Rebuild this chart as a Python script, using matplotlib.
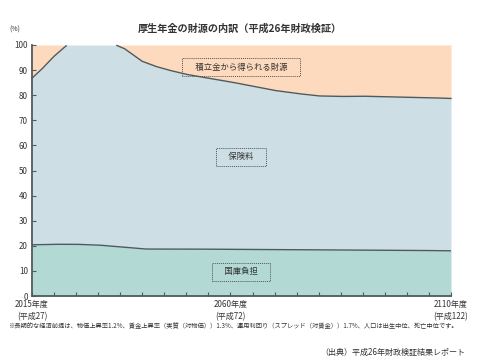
import matplotlib.pyplot as plt
import numpy as np

plt.rcParams["font.family"] = ["Noto Sans CJK JP", "DejaVu Sans"]

# 年度と財源の内訳（%）
years = [2015, 2017, 2020, 2022, 2023, 2034, 2036, 2038, 2040, 2043, 2046,
         2050, 2055, 2060, 2065, 2070, 2075, 2080, 2085, 2090, 2095, 2100,
         2105, 2110]
# 国庫負担 + 保険料 の累積（上側の線）
upper = [86.8, 90.0, 95.5, 98.6, 100.0, 100.0, 98.5, 96.0, 93.5, 91.5, 90.0,
         88.3, 86.8, 85.3, 83.6, 81.9, 80.7, 79.7, 79.5, 79.6, 79.4, 79.2,
         79.0, 78.7]
# 国庫負担（下側の線）
lower_years = [2015, 2020, 2025, 2030, 2035, 2040, 2041, 2050, 2060, 2070,
               2080, 2090, 2100, 2110]
lower_vals = [20.4, 20.6, 20.6, 20.3, 19.6, 18.8, 18.7, 18.7, 18.6, 18.5,
              18.4, 18.3, 18.2, 18.0]

xtick_pos = [2015, 2060, 2110]
xtick_labels = ["2015年度\n(平成27)", "2060年度\n(平成72)", "2110年度\n(平成122)"]

title = "厚生年金の財源の内訳（平成26年財政検証）"
note = ("※長期的な経済前提は、物価上昇率1.2%、賃金上昇率（実質（対物価））1.3%、"
        "運用利回り（スプレッド（対賃金））1.7%、人口は出生中位、死亡中位です。")
source = "（出典）平成26年財政検証結果レポート"

c_orange = "#fddabd"
c_blue = "#cddee5"
c_teal = "#b3d9d5"
c_line = "#4f5a5e"

fig = plt.figure(figsize=(4.8, 3.61), dpi=100)
ax = fig.add_axes([32 / 480, 1 - 296 / 361, 419 / 480, 251 / 361])

grid = np.arange(2015, 2110.01, 0.25)
up = np.interp(grid, years, upper)
lo = np.interp(grid, lower_years, lower_vals)

ax.fill_between(grid, up, 100, color=c_orange, lw=0)
ax.fill_between(grid, lo, up, color=c_blue, lw=0)
ax.fill_between(grid, 0, lo, color=c_teal, lw=0)
# 100%に張り付いている区間は線を描かない
ax.plot(grid, np.where(up >= 99.9, np.nan, up), color=c_line, lw=1.0,
        clip_on=False)
ax.plot(grid, lo, color=c_line, lw=1.0)

ax.set_xlim(2015, 2110)
ax.set_ylim(0, 100)
ax.set_yticks(range(0, 101, 10))
ax.set_xticks(range(2015, 2111, 5))
ax.set_xticklabels([xtick_labels[xtick_pos.index(y)] if y in xtick_pos else ""
                    for y in range(2015, 2111, 5)])
ax.tick_params(axis="both", direction="in", length=3, width=0.8,
               color=c_line, labelsize=5.8, pad=3, labelcolor="#333333")
ax.tick_params(axis="x", pad=3)
for lbl in ax.get_xticklabels():
    lbl.set_linespacing(1.35)

for s in ["top", "right"]:
    ax.spines[s].set_visible(False)
for s in ["left", "bottom"]:
    ax.spines[s].set_color(c_line)
    ax.spines[s].set_linewidth(1.3)

box = dict(boxstyle="square,pad=0.5", fc="none", ec="#555555",
           ls=(0, (1, 1)), lw=0.7)
ax.text(2062.4, 91.2, "　積立金から得られる財源　", ha="center", va="center",
        fontsize=6, color="#333333", bbox=box)
ax.text(2062.4, 55.4, "　保険料　", ha="center", va="center",
        fontsize=6, color="#333333", bbox=box)
ax.text(2062.4, 9.6, "　国庫負担　", ha="center", va="center",
        fontsize=6, color="#333333", bbox=box)

fig.text(0.5, 1 - 29 / 361, title, ha="center", va="center",
         fontsize=7.3, fontweight="bold", color="#333333")
fig.text(15 / 480, 1 - 30 / 361, "(%)", ha="center", va="center",
         fontsize=5, color="#333333")
fig.text(8 / 480, 1 - 326 / 361, note, ha="left", va="center",
         fontsize=4.5, color="#333333")
fig.text(465 / 480, 1 - 352 / 361, source, ha="right", va="center",
         fontsize=5.8, color="#333333")

fig.savefig("out.png", dpi=100)
